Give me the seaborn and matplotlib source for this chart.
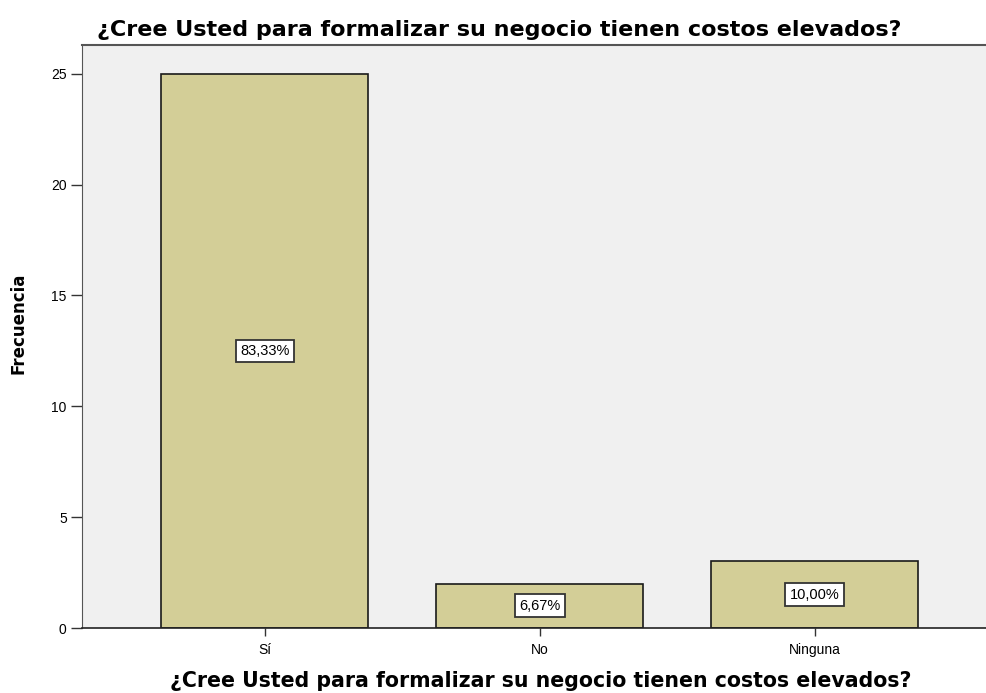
import matplotlib
matplotlib.use("Agg")
import matplotlib.pyplot as plt
import seaborn as sns
import pandas as pd

categories = ["Sí", "No", "Ninguna"]
counts = [25, 2, 3]
pct_labels = ["83,33%", "6,67%", "10,00%"]
yticks = [0, 5, 10, 15, 20, 25]
title = "¿Cree Usted para formalizar su negocio tienen costos elevados?"

sns.set_style("white")
plt.rcParams['font.family'] = ['Liberation Sans', 'DejaVu Sans']
plt.rcParams['text.color'] = 'black'
plt.rcParams['axes.labelcolor'] = 'black'
plt.rcParams['xtick.color'] = 'black'
plt.rcParams['ytick.color'] = 'black'

df = pd.DataFrame({"cat": categories, "n": counts})

fig = plt.figure(figsize=(9.87, 6.93), dpi=100)
ax = fig.add_axes([82/987, 1-628/693, 1-82/987, (628-45)/693])
ax.set_facecolor("#F0F0F0")

sns.barplot(data=df, x="cat", y="n", order=categories, color="#D3CE97",
            edgecolor="#1a1a1a", linewidth=1.2, width=0.75, saturation=1, ax=ax)

for i, (v, lab) in enumerate(zip(counts, pct_labels)):
    ax.text(i, v/2, lab, ha="center", va="center", fontsize=10.5, color="black",
            bbox=dict(boxstyle="square,pad=0.3", facecolor="white", edgecolor="#333333", linewidth=1.3))

ax.set_xlim(-0.664, 2.627)
ax.set_ylim(0, 26.3)
ax.set_yticks(yticks)
ax.set_yticklabels([str(t) for t in yticks], fontsize=10)
ax.tick_params(axis="both", which="major", bottom=True, left=True, direction="out",
               length=6, width=1, color="#333333", labelsize=10, labelcolor="black")
ax.tick_params(axis="x", pad=5)
ax.tick_params(axis="y", pad=3, length=8)

for s in ["top", "left", "bottom"]:
    ax.spines[s].set_visible(True)
    ax.spines[s].set_color("#555555")
ax.spines["bottom"].set_color("#222222")
ax.spines["bottom"].set_linewidth(1.2)
ax.spines["top"].set_linewidth(1.5)
ax.spines["right"].set_visible(False)

ax.set_ylabel("Frecuencia", fontsize=12, fontweight="bold", family=["DejaVu Sans"])
ax.yaxis.set_label_coords(-(82-27)/905, (628-323)/583)
ax.set_xlabel(title, fontsize=14.8, fontweight="bold", family=["DejaVu Sans"])
ax.xaxis.set_label_coords((541-82)/905, -(671-628)/583)
fig.text(97/987, 1-30/693, title, fontsize=16, fontweight="bold", ha="left", va="center",
         family=["DejaVu Sans"])

fig.savefig("out.png", dpi=100)
